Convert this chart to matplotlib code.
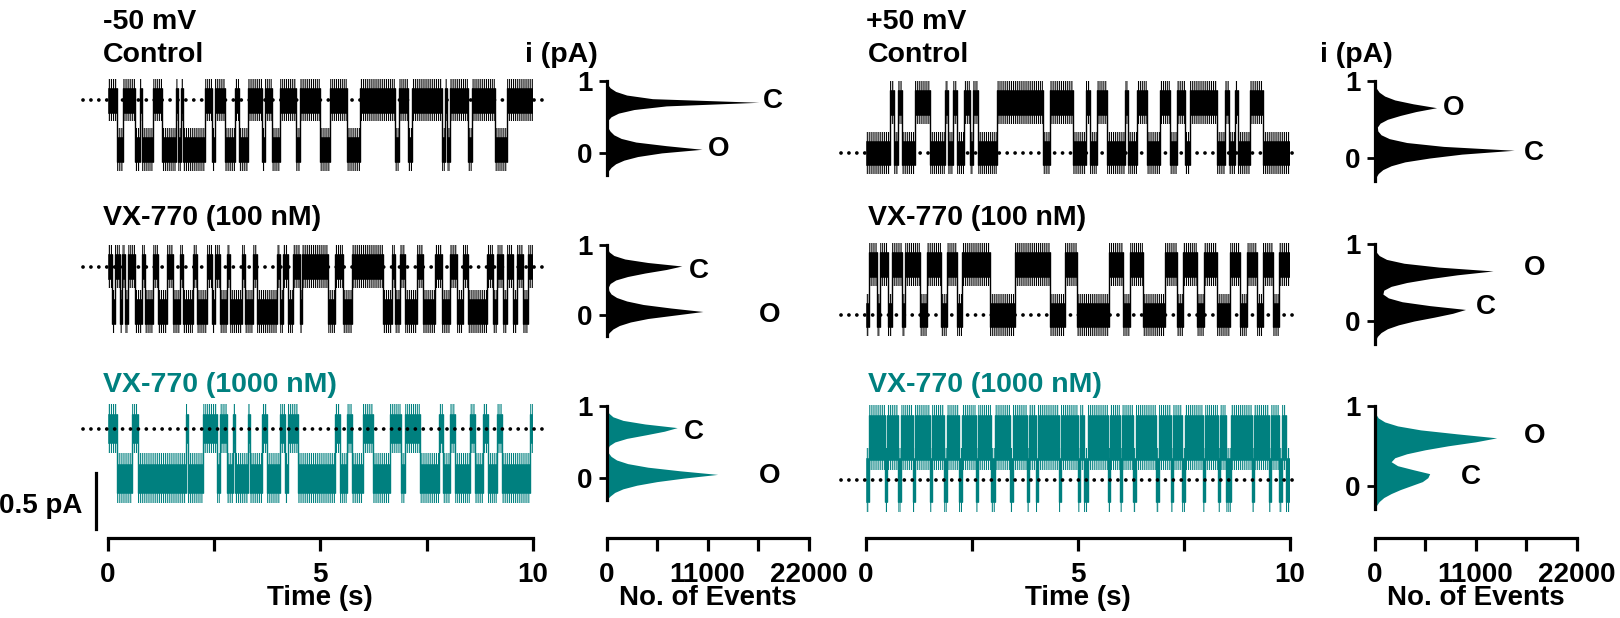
import numpy as np
import matplotlib
matplotlib.use("Agg")
import matplotlib.pyplot as plt
from matplotlib.lines import Line2D

plt.rcParams['font.family'] = ['Liberation Sans', 'DejaVu Sans']
plt.rcParams['font.weight'] = 'bold'
plt.rcParams['axes.labelweight'] = 'bold'
plt.rcParams['font.size'] = 20
plt.rcParams['hatch.linewidth'] = 0.8

# ---- datos ----
# tiempos de transicion (s); cada traza empieza cerrada (C) y alterna C/O
tr_neg_ctl = [0.23, 0.37, 0.65, 0.76, 0.80, 1.08, 1.27, 1.62, 1.66, 1.72, 1.78, 2.29,
              2.45, 2.53, 2.76, 3.00, 3.08, 3.31, 3.62, 3.70, 3.86, 4.05, 4.44, 4.52,
              4.99, 5.23, 5.62, 5.94, 6.76, 6.84, 7.07, 7.15, 7.85, 7.93, 7.97, 8.05,
              8.48, 8.56, 9.10, 9.38]
tr_neg_100 = [0.10, 0.18, 0.29, 0.33, 0.41, 0.49, 0.65, 0.80, 0.88, 1.08, 1.19, 1.39,
              1.55, 1.70, 1.78, 2.02, 2.10, 2.33, 2.45, 2.53, 2.64, 2.80, 2.88, 3.15,
              3.23, 3.43, 3.51, 3.98, 4.05, 4.13, 4.25, 4.37, 4.52, 4.56, 5.19, 5.35,
              5.54, 5.74, 6.48, 6.68, 6.76, 6.87, 6.99, 7.27, 7.42, 7.70, 7.85, 8.05,
              8.21, 8.36, 8.48, 8.91, 9.07, 9.15, 9.30, 9.38, 9.54, 9.62, 9.77, 9.89]
tr_neg_1000 = [0.22, 0.57, 0.72, 1.84, 1.90, 2.25, 2.57, 2.64, 2.80, 2.95, 3.00, 3.30,
               3.34, 3.62, 3.74, 4.05, 4.17, 4.25, 4.48, 5.34, 5.46, 5.62, 5.74, 6.01,
               6.25, 6.64, 6.90, 7.00, 7.35, 7.78, 7.89, 8.05, 8.17, 8.52, 8.64, 8.83,
               8.95, 9.15, 9.26, 9.93]
tr_pos_ctl = [0.57, 0.65, 0.76, 0.84, 1.16, 1.51, 1.86, 1.94, 2.06, 2.14, 2.30, 2.45,
              2.53, 2.65, 3.08, 4.18, 4.34, 4.89, 5.20, 5.28, 5.44, 5.68, 6.11, 6.19,
              6.38, 6.62, 6.93, 7.17, 7.33, 7.52, 7.64, 8.27, 8.47, 8.55, 8.70, 8.78,
              9.06, 9.37]
tr_pos_100 = [0.06, 0.25, 0.33, 0.53, 0.61, 0.84, 0.92, 1.27, 1.43, 1.78, 1.90, 2.14,
              2.26, 2.92, 3.51, 4.34, 4.69, 4.97, 5.72, 6.07, 6.23, 6.54, 7.05, 7.33,
              7.48, 7.80, 7.96, 8.27, 8.58, 8.82, 8.98, 9.21, 9.37, 9.61, 9.73]
tr_pos_1000 = [0.08, 0.45, 0.50, 0.75, 0.82, 1.10, 1.15, 1.50, 1.56, 1.85, 1.90, 2.20,
               2.26, 2.60, 2.64, 2.95, 3.05, 3.40, 3.46, 3.80, 3.84, 4.00, 4.06, 4.55,
               4.60, 5.00, 5.04, 5.15, 5.24, 5.70, 5.76, 6.00, 6.04, 6.30, 6.36, 6.85,
               6.90, 7.20, 7.24, 7.45, 7.52, 7.95, 8.00, 8.30, 8.34, 8.50, 8.62, 9.10,
               9.16, 9.50, 9.55, 9.75, 9.82, 9.90]

# amplitud de apertura (pA), ruido: nucleo y picos (pA)
amp_neg = [-0.44, -0.40, -0.44]
amp_pos = [0.45, 0.45, 0.38]
core_neg = [0.11, 0.11, 0.13]
peak_neg = [0.19, 0.19, 0.22]
core_pos = [0.11, 0.11, 0.20]
peak_pos = [0.19, 0.19, 0.29]

# histogramas de amplitud: niveles (pA) y numero de eventos
hist_lv = [-0.30, -0.25, -0.20, -0.15, -0.10, -0.05, 0.00, 0.05, 0.10, 0.15, 0.20,
           0.25, 0.30, 0.35, 0.40, 0.45, 0.50, 0.55, 0.60, 0.65, 0.70, 0.75, 0.80,
           0.85, 0.90, 0.95, 1.00]
h_neg_ctl = [0, 200, 500, 1000, 1900, 3400, 6000, 10400, 6500, 3200, 1600, 800, 400,
             150, 80, 150, 500, 1300, 3000, 6500, 16600, 5000, 2200, 1000, 400, 100, 0]
h_neg_100 = [0, 300, 700, 1400, 2600, 4500, 7500, 10500, 7000, 4000, 2200, 1100, 500,
             250, 200, 400, 1000, 2300, 4200, 6500, 8200, 4500, 2000, 800, 300, 80, 0]
h_neg_1000 = [0, 400, 900, 1800, 3300, 5500, 8500, 12100, 8000, 4500, 2300, 1100, 500,
              200, 120, 300, 900, 2200, 4300, 6300, 7700, 4200, 1800, 700, 250, 60, 0]
h_pos_ctl = [0, 150, 400, 900, 1800, 3300, 6000, 9500, 15200, 7500, 3500, 1600, 700,
             350, 300, 600, 1400, 2800, 4500, 6750, 4200, 2200, 1100, 500, 200, 60, 0]
h_pos_100 = [0, 100, 300, 700, 1400, 2600, 4300, 6500, 8500, 9900, 6000, 3000, 1500,
             900, 1000, 1800, 3500, 6000, 9000, 12900, 7000, 3200, 1300, 500, 150, 40, 0]
h_pos_1000 = [0, 200, 500, 1000, 1800, 2800, 4000, 5200, 5800, 6000, 4200, 2500, 1800,
              2200, 3500, 5500, 8000, 11000, 13300, 9000, 5000, 2500, 1100, 400, 120, 30, 0]

# etiquetas C / O de cada histograma: (texto, eventos, pA)
lab_neg = [[("C", 17000, 0.72), ("O", 11000, 0.06)],
           [("C", 9000, 0.63), ("O", 16600, 0.0)],
           [("C", 8400, 0.64), ("O", 16600, 0.03)]]
lab_pos = [[("O", 7400, 0.64), ("C", 16300, 0.065)],
           [("O", 16300, 0.69), ("C", 11000, 0.18)],
           [("O", 16300, 0.62), ("C", 9400, 0.11)]]

row_titles = ["Control", "VX-770 (100 nM)", "VX-770 (1000 nM)"]

BLACK = "#000000"
TEAL = "#00807f"
colores = [BLACK, BLACK, TEAL]

# ---- figura ----
W, H = 1620, 618
PXPA = 112.0  # px por pA en las trazas

fig = plt.figure(figsize=(W / 100, H / 100), dpi=100)


def box(x0, y0, x1, y1):
    return fig.add_axes([x0 / W, 1 - y1 / H, (x1 - x0) / W, (y1 - y0) / H])


def traza(x0, x1, ydot, tr, amp, core, peak, col):
    ax = box(x0, ydot - 95, x1, ydot + 95)
    ax.set_xlim(0, 10)
    ax.set_ylim(-95 / PXPA, 95 / PXPA)
    ax.axis("off")
    edges = np.array([0.0] + tr + [10.0])
    starts = edges[:-1]
    dur = np.diff(edges)
    lev = (np.arange(len(starts)) % 2) * amp
    # picos de ruido (rayado vertical) y nucleo solido
    ax.bar(starts, 2 * peak, width=dur, bottom=lev - peak, align="edge",
           color="none", edgecolor=col, hatch="||||||||", lw=0)
    ax.bar(starts, 2 * core, width=dur, bottom=lev - core, align="edge",
           color=col, edgecolor=col, lw=0.4)
    lo, hi = min(0, amp) - core, max(0, amp) + core
    ax.vlines(tr, lo, hi, color=col, lw=1.0)
    ax.plot([-0.58, 10.2], [0, 0], color="black", lw=2.7, linestyle=(0, (0.01, 2.1)),
            dash_capstyle="round", clip_on=False, zorder=5)
    return ax


def histo(x0, yzero, yone, counts, col, labels):
    ppp = yzero - yone
    ax = box(x0, yone - 0.05 * ppp, x0 + 202, yzero + 0.35 * ppp)
    ax.set_xlim(0, 22000)
    ax.set_ylim(-0.35, 1.05)
    ax.fill_betweenx(hist_lv, 0, counts, color=col, lw=0)
    for s in ["top", "right", "bottom"]:
        ax.spines[s].set_visible(False)
    ax.spines["left"].set_bounds(-0.3, 1.0)
    ax.spines["left"].set_linewidth(2.3)
    ax.set_xticks([])
    ax.set_yticks([0, 1])
    ax.set_yticklabels(["0", "1"])
    ax.tick_params(axis="y", length=6, width=2, pad=4, labelsize=20)
    ax.patch.set_visible(False)
    for txt, xx, yy in labels:
        ax.text(xx, yy, txt, fontsize=20, ha="left", va="center")
    return ax


def eje_inferior(x0, x1, lim, ticks, ticklabels, titulo):
    ax = box(x0, 530, x1, 538)
    ax.set_xlim(lim)
    for s in ["top", "right", "left"]:
        ax.spines[s].set_visible(False)
    ax.spines["bottom"].set_linewidth(2.3)
    ax.set_yticks([])
    ax.set_xticks(ticks)
    ax.set_xticklabels(ticklabels)
    ax.tick_params(axis="x", length=9, width=2.3, pad=8, labelsize=20)
    ax.set_xlabel(titulo, fontsize=20, fontweight="bold", labelpad=-2)
    ax.patch.set_visible(False)


# trazas -50 mV (izquierda) y +50 mV (derecha)
tr_neg = [tr_neg_ctl, tr_neg_100, tr_neg_1000]
tr_pos = [tr_pos_ctl, tr_pos_100, tr_pos_1000]
h_neg = [h_neg_ctl, h_neg_100, h_neg_1000]
h_pos = [h_pos_ctl, h_pos_100, h_pos_1000]
ydot_neg = [100.2, 266.6, 428.8]
ydot_pos = [153, 315, 480]
hy_neg = [(152.9, 80.6), (315, 245), (478, 406)]
hy_pos = [(158, 80.6), (321, 244), (485.6, 406)]
ytit = [62, 225, 392]

for i in range(3):
    traza(107.5, 533, ydot_neg[i], tr_neg[i], amp_neg[i], core_neg[i], peak_neg[i],
          colores[i])
    traza(866, 1290, ydot_pos[i], tr_pos[i], amp_pos[i], core_pos[i], peak_pos[i],
          colores[i])
    histo(606.5, hy_neg[i][0], hy_neg[i][1], h_neg[i], colores[i], lab_neg[i])
    histo(1374.6, hy_pos[i][0], hy_pos[i][1], h_pos[i], colores[i], lab_pos[i])
    fig.text(103 / W, 1 - ytit[i] / H, row_titles[i], fontsize=20.5, color=colores[i],
             ha="left", va="baseline")
    fig.text(868 / W, 1 - ytit[i] / H, row_titles[i], fontsize=20.5, color=colores[i],
             ha="left", va="baseline")

fig.text(103 / W, 1 - 29 / H, "-50 mV", fontsize=20.5, ha="left", va="baseline")
fig.text(866 / W, 1 - 29 / H, "+50 mV", fontsize=20.5, ha="left", va="baseline")
fig.text(525 / W, 1 - 62 / H, "i (pA)", fontsize=20.5, ha="left", va="baseline")
fig.text(1320 / W, 1 - 62 / H, "i (pA)", fontsize=20.5, ha="left", va="baseline")

# barra de escala 0.5 pA
fig.add_artist(Line2D([96 / W, 96 / W], [1 - 473 / H, 1 - 529 / H], color="black",
                      lw=2.3, transform=fig.transFigure))
fig.text(82 / W, 1 - 513 / H, "0.5 pA", fontsize=20, ha="right", va="baseline")

# ejes de tiempo y de eventos
eje_inferior(107.5, 533, (0, 10), [0, 2.5, 5, 7.5, 10], ["0", "", "5", "", "10"], "Time (s)")
eje_inferior(866, 1290, (0, 10), [0, 2.5, 5, 7.5, 10], ["0", "", "5", "", "10"], "Time (s)")
eje_inferior(606.5, 808.5, (0, 22000), [0, 5500, 11000, 16500, 22000],
             ["0", "", "11000", "", "22000"], "No. of Events")
eje_inferior(1374.6, 1576.6, (0, 22000), [0, 5500, 11000, 16500, 22000],
             ["0", "", "11000", "", "22000"], "No. of Events")

fig.savefig("out.png", dpi=100)
